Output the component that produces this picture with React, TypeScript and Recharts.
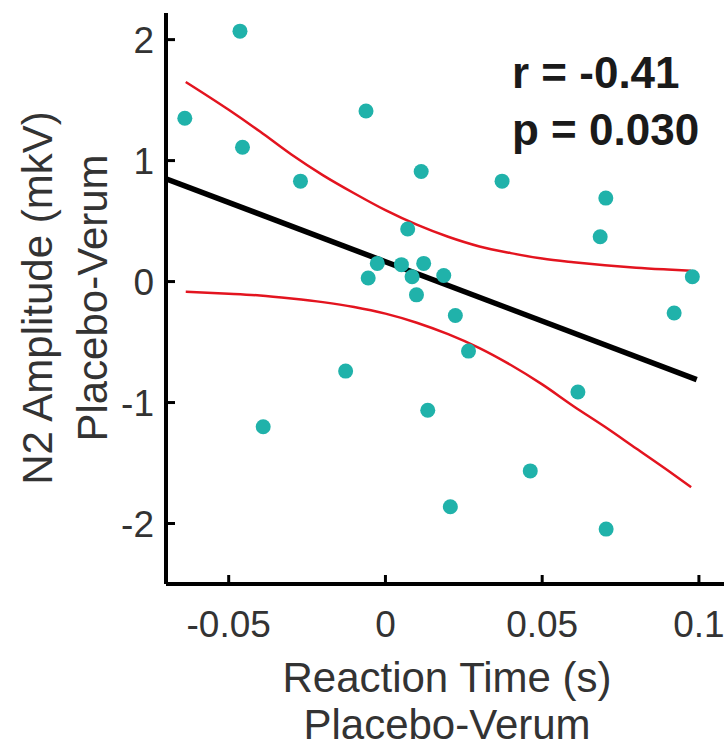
import * as React from "react";
import { ComposedChart, Scatter, Line, XAxis, YAxis, Label } from "recharts";

const FONT = "'Liberation Sans', Arial, Helvetica, sans-serif";

// participants: reaction time diff (s) and N2 amplitude diff (mkV), placebo - verum
const rtDiff = [
    -0.0464, -0.064, -0.0456, -0.0271, -0.0062, -0.0055, -0.0026, 0.0114, 0.0372, 0.0703,
    0.0685, 0.0979, 0.0071, 0.0051, 0.0122, 0.0085, 0.0186, 0.0099, 0.0223, 0.0265,
    0.0135, 0.0614, 0.0462, 0.0207, 0.0704, 0.0921, -0.0127, -0.039,
];
const n2Diff = [
    2.07, 1.35, 1.11, 0.83, 1.41, 0.03, 0.15, 0.91, 0.83, 0.69,
    0.37, 0.04, 0.435, 0.14, 0.15, 0.04, 0.05, -0.11, -0.28, -0.575,
    -1.064, -0.913, -1.565, -1.862, -2.046, -0.26, -0.74, -1.2,
];

// regression line
const fitX = [-0.07, 0.0993];
const fitY = [0.85, -0.81];

// confidence band
const ciX = [-0.0637, -0.05, -0.04, -0.03, -0.02, -0.01, 0, 0.01, 0.02, 0.03, 0.04, 0.05, 0.06, 0.07, 0.08, 0.09, 0.0975];
const ciUpper = [1.65, 1.42, 1.24, 1.05, 0.88, 0.73, 0.59, 0.47, 0.37, 0.29, 0.235, 0.19, 0.16, 0.135, 0.115, 0.1, 0.09];
const ciLower = [-0.085, -0.1, -0.115, -0.14, -0.17, -0.21, -0.265, -0.34, -0.435, -0.55, -0.69, -0.85, -1.03, -1.2, -1.38, -1.56, -1.7];

const xTicks = [-0.05, 0, 0.05, 0.1];
const yTicks = [-2, -1, 0, 1, 2];

const points = rtDiff.map((x, i) => ({ x, y: n2Diff[i] }));
const fit = fitX.map((x, i) => ({ x, y: fitY[i] }));
const upper = ciX.map((x, i) => ({ x, y: ciUpper[i] }));
const lower = ciX.map((x, i) => ({ x, y: ciLower[i] }));

const TICK_COLOR = "#333";

function XTick({ x, y, payload }: any) {
    return (
        <g>
            <line x1={x} y1={y} x2={x} y2={y - 9} stroke="#000" strokeWidth={3} />
            <text x={x} y={y + 53} textAnchor="middle" fontSize={37} fill={TICK_COLOR} fontFamily={FONT}>
                {payload.value}
            </text>
        </g>
    );
}

function YTick({ x, y, payload }: any) {
    return (
        <g>
            <line x1={x} y1={y} x2={x + 9} y2={y} stroke="#000" strokeWidth={3} />
            <text x={x - 12} y={y + 13} textAnchor="end" fontSize={37} fill={TICK_COLOR} fontFamily={FONT}>
                {payload.value}
            </text>
        </g>
    );
}

function XTitle() {
    return (
        <text textAnchor="middle" fontSize={42} fill={TICK_COLOR} fontFamily={FONT}>
            <tspan x={447} y={692}>Reaction Time (s)</tspan>
            <tspan x={447} y={739}>Placebo-Verum</tspan>
        </text>
    );
}

function YTitle() {
    return (
        <g transform="translate(0, 298) rotate(-90)">
            <text textAnchor="middle" fontSize={42} fill={TICK_COLOR} fontFamily={FONT}>
                <tspan x={0} y={52}>N2 Amplitude (mkV)</tspan>
                <tspan x={0} y={107}>Placebo-Verum</tspan>
            </text>
        </g>
    );
}

const Dot = (p: any) => <circle cx={p.cx} cy={p.cy} r={7.5} fill="#20b2aa" />;

export default function App() {
    return (
        <div style={{ position: "absolute", left: 0, top: 0, width: 724, height: 751, background: "#fff" }}>
            <ComposedChart width={724} height={751} margin={{ top: 13, right: 0, bottom: 0, left: 0 }}>
                <XAxis
                    type="number"
                    dataKey="x"
                    domain={[-0.07, 0.108]}
                    ticks={xTicks}
                    interval={0}
                    allowDataOverflow
                    height={167}
                    axisLine={{ stroke: "#000", strokeWidth: 4 }}
                    tickLine={false}
                    tickSize={0}
                    tickMargin={0}
                    tick={XTick}
                >
                    <Label content={XTitle} />
                </XAxis>
                <YAxis
                    type="number"
                    dataKey="y"
                    domain={[-2.5, 2.22]}
                    ticks={yTicks}
                    interval={0}
                    allowDataOverflow
                    width={166}
                    axisLine={{ stroke: "#000", strokeWidth: 4 }}
                    tickLine={false}
                    tickSize={0}
                    tickMargin={0}
                    tick={YTick}
                >
                    <Label content={YTitle} />
                </YAxis>
                <Scatter data={points} shape={Dot} isAnimationActive={false} />
                <Line data={fit} dataKey="y" type="linear" stroke="#000" strokeWidth={5.5} dot={false} isAnimationActive={false} />
                <Line data={upper} dataKey="y" type="monotone" stroke="#e3141f" strokeWidth={2.5} dot={false} isAnimationActive={false} />
                <Line data={lower} dataKey="y" type="monotone" stroke="#e3141f" strokeWidth={2.5} dot={false} isAnimationActive={false} />
            </ComposedChart>
            <svg width={724} height={751} style={{ position: "absolute", left: 0, top: 0, pointerEvents: "none" }}>
                <text fontFamily={FONT} fontWeight="bold" fontSize={44} fill="#1a1a1a">
                    <tspan x={512} y={88}>r = -0.41</tspan>
                    <tspan x={512} y={145}>p = 0.030</tspan>
                </text>
            </svg>
        </div>
    );
}
